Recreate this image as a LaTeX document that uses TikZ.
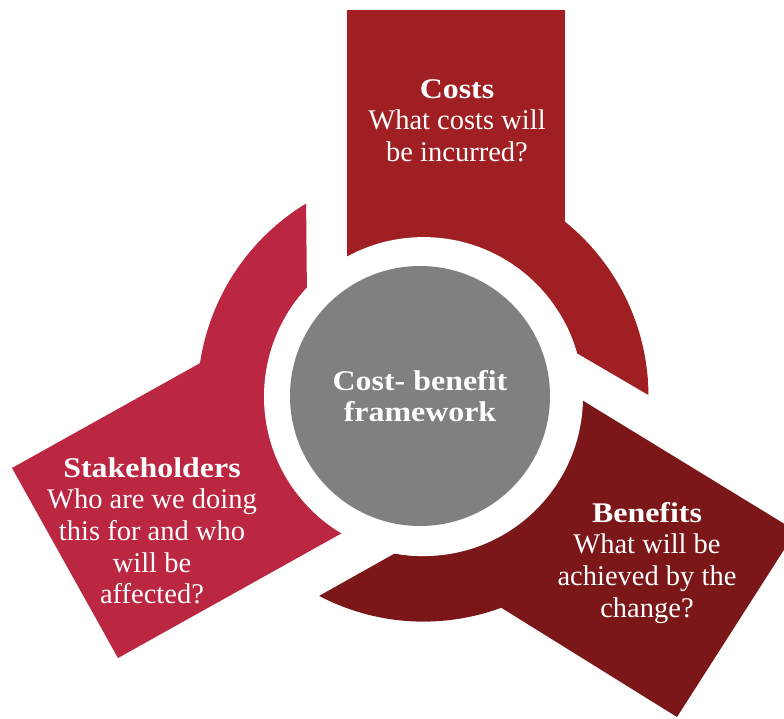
\documentclass[tikz,border=0pt]{standalone}
\usepackage{fontspec}
\usetikzlibrary{calc}
\setmainfont{Liberation Serif}[BoldFeatures={FakeStretch=1.12}]
\definecolor{costred}{HTML}{A01F22}
\definecolor{stakered}{HTML}{BB2641}
\definecolor{benered}{HTML}{7B1718}
\definecolor{hubgray}{HTML}{808080}
\newcommand\cbblock[1]{\begin{tabular}[t]{@{}c@{}}#1\end{tabular}}
\begin{document}
\begin{tikzpicture}[x=1pt,y=-1pt,
  seglabel/.style={text=white, inner sep=0pt, anchor=base,
    font=\fontsize{28.5}{31.7}\selectfont}]
\useasboundingbox (0,0) rectangle (784,718);
\clip (0,0) rectangle (784,718);
\coordinate (rc) at (423.5,396.6);
% Costs segment
\fill[costred] (347,10) -- (565,10) -- (565,396) -- (347,396) -- cycle;
\fill[costred] ($(rc)+(-0.41:225)$) arc[start angle=-0.41, end angle=-90, radius=225]
  -- ($(rc)+(-90:159.5)$) arc[start angle=-90, end angle=-15.76, radius=159.5] -- cycle;
% Stakeholders segment
\fill[stakered] (12,468) -- (118,658) -- (458.6,468) -- (352.6,278) -- cycle;
\fill[stakered] ($(rc)+(238.7:226)$) arc[start angle=238.7, end angle=155, radius=226]
  -- ($(rc)+(155:159.5)$) arc[start angle=155, end angle=223.02, radius=159.5] -- cycle;
% Benefits segment
\fill[benered] (796,531) -- (677,717) -- (345.8,511.1) -- (463.3,327.5) -- cycle;
\fill[benered] ($(rc)+(117.65:225)$) arc[start angle=117.65, end angle=36, radius=225]
  -- ($(rc)+(36:159.5)$) arc[start angle=36, end angle=100.4, radius=159.5] -- cycle;
% white gap round the hub
\fill[white] (rc) circle[radius=159.5];
\node[circle, fill=hubgray, minimum size=260pt, inner sep=0pt] (hub) at (420,396) {};
\node[seglabel] (costs) at (457,98) {\cbblock{\textbf{Costs}\\What costs will\\be incurred?}};
\node[seglabel] (hubtext) at (420,390) {\cbblock{\textbf{Cost- benefit}\\\textbf{framework}}};
\node[seglabel] (stake) at (152,477) {\cbblock{\textbf{Stakeholders}\\Who are we doing\\this for and who\\will be\\affected?}};
\node[seglabel] (bene) at (647,522) {\cbblock{\textbf{Benefits}\\What will be\\achieved by the\\change?}};
\end{tikzpicture}
\end{document}
